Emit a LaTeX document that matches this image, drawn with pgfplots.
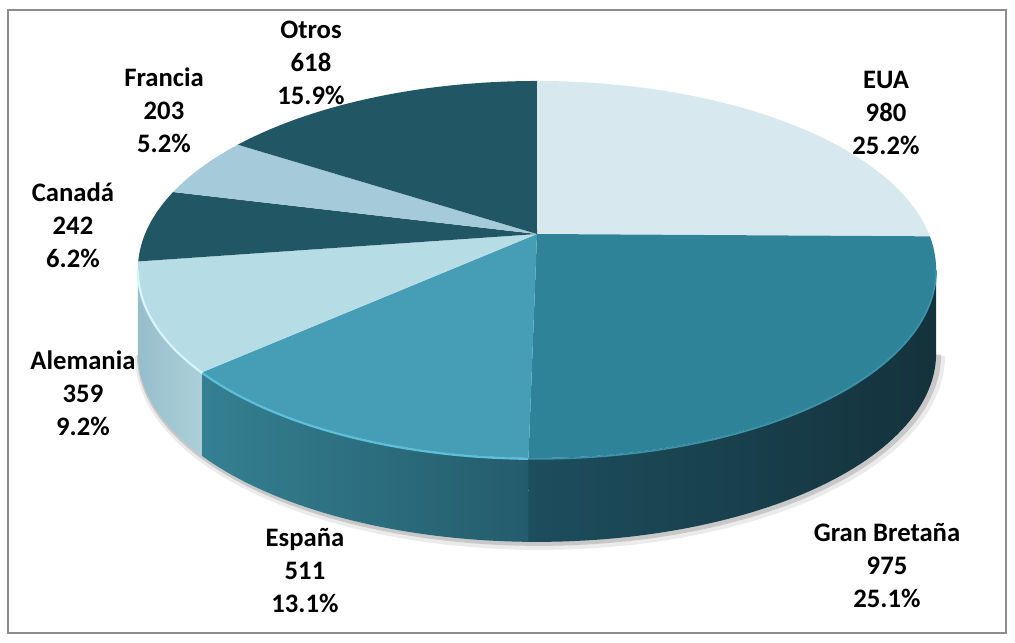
\documentclass[border=0pt]{standalone}
\usepackage{pgfplots}
\pgfplotsset{compat=1.18}
\usepackage{fontspec}
\setmainfont{Carlito}

% colores de las rebanadas
\definecolor{cEUA}{HTML}{D7E9EF}
\definecolor{cGB}{HTML}{2F8399}
\definecolor{cESP}{HTML}{459EB6}
\definecolor{cALE}{HTML}{B6DCE5}
\definecolor{cCAN}{HTML}{215765}
\definecolor{cFRA}{HTML}{A5CAD9}
\definecolor{cOTR}{HTML}{215765}
% lados
\definecolor{sGBl}{RGB}{29,78,94}
\definecolor{sGBr}{RGB}{20,50,60}
\definecolor{sESl}{RGB}{52,128,146}
\definecolor{sESr}{RGB}{36,92,108}
\definecolor{sALl}{RGB}{150,190,202}
\definecolor{sALr}{RGB}{172,208,218}
\definecolor{marco}{RGB}{140,140,140}

\newcommand{\lab}{\fontsize{20}{24.75}\selectfont\bfseries}

\begin{document}
\begin{tikzpicture}[
  declare function={
    px(\t)=\cx+\ra*cos(\t)/(1+\kk*sin(\t));
    py(\t)=\cy-\rb*sin(\t)/(1+\kk*sin(\t));
    T(\uu,\ua,\ub)=(\uu<1) ? (\ua+\uu*(\ub-\ua)) : ((\uu<2) ? \ub : (\ub-(\uu-2)*(\ub-\ua)));
    off(\uu)=(\uu<1) ? 0 : ((\uu<2) ? (\uu-1)*\hh : \hh);
  }]
% datos
\def\vA{980}% EUA
\def\vB{975}% Gran Bretaña
\def\vC{511}% España
\def\vD{359}% Alemania
\def\vE{242}% Canadá
\def\vF{203}% Francia
\def\vG{618}% Otros
\pgfmathsetmacro\tot{\vA+\vB+\vC+\vD+\vE+\vF+\vG}
\pgfmathsetmacro\aA{90}
\pgfmathsetmacro\aB{\aA-\vA/\tot*360}
\pgfmathsetmacro\aC{\aB-\vB/\tot*360}
\pgfmathsetmacro\aD{\aC-\vC/\tot*360}
\pgfmathsetmacro\aE{\aD-\vD/\tot*360}
\pgfmathsetmacro\aF{\aE-\vE/\tot*360}
\pgfmathsetmacro\aG{\aF-\vF/\tot*360}
\pgfmathsetmacro\aH{\aG-\vG/\tot*360}
% perspectiva (en pixeles)
\def\cx{537}\def\cy{234}\def\ra{392}\def\rb{181.8}\def\kk{0.188}\def\hh{84}
\pgfmathsetmacro\sL{-180+asin(\kk)}
\pgfmathsetmacro\sR{-asin(\kk)}

\begin{axis}[
  width=761.25pt, height=482.25pt, scale only axis,
  xmin=0, xmax=1015, ymin=0, ymax=643, y dir=reverse,
  hide axis, clip=false,
]
\path (axis cs:0,0) rectangle (axis cs:1015,643);
\draw[marco, line width=1.1pt] (axis cs:8,10) rectangle (axis cs:1006,633);

% sombra
\addplot[draw=black, opacity=0.08, line width=9pt, domain=\sL:\sR, samples=90]
  ({px(x)+3},{py(x)+\hh+2});
\addplot[draw=black, opacity=0.15, line width=4.5pt, domain=\sL:\sR, samples=90]
  ({px(x)+2},{py(x)+\hh+1});

% lados
\addplot[draw=none, left color=sGBl, right color=sGBr, domain=0:3, samples=181]
  ({px(T(x,\aC,\sR))},{py(T(x,\aC,\sR))+off(x)}) -- cycle;
\addplot[draw=none, left color=sESl, right color=sESr, domain=0:3, samples=181]
  ({px(T(x,\aD,\aC))},{py(T(x,\aD,\aC))+off(x)}) -- cycle;
\addplot[draw=none, left color=sALl, right color=sALr, domain=0:3, samples=181]
  ({px(T(x,\sL,\aD))},{py(T(x,\sL,\aD))+off(x)}) -- cycle;

% caras superiores
\addplot[fill=cEUA, draw=none, domain=\aB:\aA, samples=80]
  ({px(x)},{py(x)}) -- (axis cs:\cx,\cy) -- cycle;
\addplot[fill=cGB, draw=none, domain=\aC:\aB, samples=80]
  ({px(x)},{py(x)}) -- (axis cs:\cx,\cy) -- cycle;
\addplot[fill=cESP, draw=none, domain=\aD:\aC, samples=60]
  ({px(x)},{py(x)}) -- (axis cs:\cx,\cy) -- cycle;
\addplot[fill=cALE, draw=none, domain=\aE:\aD, samples=40]
  ({px(x)},{py(x)}) -- (axis cs:\cx,\cy) -- cycle;
\addplot[fill=cCAN, draw=none, domain=\aF:\aE, samples=30]
  ({px(x)},{py(x)}) -- (axis cs:\cx,\cy) -- cycle;
\addplot[fill=cFRA, draw=none, domain=\aG:\aF, samples=30]
  ({px(x)},{py(x)}) -- (axis cs:\cx,\cy) -- cycle;
\addplot[fill=cOTR, draw=none, domain=\aH:\aG, samples=60]
  ({px(x)},{py(x)}) -- (axis cs:\cx,\cy) -- cycle;

% brillo del borde
\addplot[draw={rgb,255:red,215;green,245;blue,250}, line width=1.6pt, domain=\sL:\aD, samples=30]
  ({px(x)},{py(x)+1});
\addplot[draw={rgb,255:red,92;green,192;blue,216}, line width=1.6pt, domain=\aD:\aC, samples=40]
  ({px(x)},{py(x)+1});
\addplot[draw={rgb,255:red,58;green,148;blue,172}, line width=1.2pt, domain=\aC:\sR, samples=60]
  ({px(x)},{py(x)+1});

% etiquetas
\node[align=center, font=\lab] at (axis cs:886,113) {EUA\\980\\25.2\%};
\node[align=center, font=\lab] at (axis cs:887,566) {Gran Bretaña\\975\\25.1\%};
\node[align=center, font=\lab] at (axis cs:305,571) {España\\511\\13.1\%};
\node[align=center, font=\lab] at (axis cs:83,393) {Alemania\\359\\9.2\%};
\node[align=center, font=\lab] at (axis cs:73,225) {Canadá\\242\\6.2\%};
\node[align=center, font=\lab] at (axis cs:164,110) {Francia\\203\\5.2\%};
\node[align=center, font=\lab] at (axis cs:311,63) {Otros\\618\\15.9\%};
\end{axis}
\end{tikzpicture}
\end{document}
